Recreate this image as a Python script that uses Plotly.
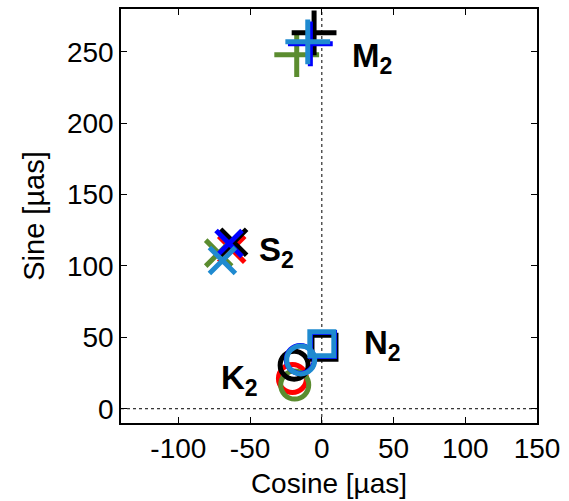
import plotly.graph_objects as go

# Tidal constituents and their plotting symbols
tides = ["M2", "S2", "K2", "N2"]
tide_symbols = ["cross-thin", "x-thin", "circle-open", "square-open"]
tide_sizes = [32, 26, 28, 24]

# Cosine / sine amplitudes (µas) of each solution, one entry per constituent
black_cos = [-5.4, -61.5, -19.3, 1.5]
black_sin = [263.3, 116.6, 30.5, 43.0]
red_cos = [None, -62.8, -20.5, None]
red_sin = [None, 111.7, 21.2, None]
green_cos = [-17.5, -71.9, -18.9, None]
green_sin = [248.0, 109.0, 16.6, None]
blue_cos = [-8.0, -64.7, -15.0, 0.5]
blue_sin = [255.6, 115.8, 34.5, 45.0]
cyan_cos = [-9.8, -69.3, -14.7, 0.0]
cyan_sin = [257.0, 103.8, 34.2, 45.5]

# Label anchor positions for the constituent names
label_text = ["<b>M<sub>2</sub></b>", "<b>S<sub>2</sub></b>",
              "<b>K<sub>2</sub></b>", "<b>N<sub>2</sub></b>"]
label_x = [19.5, -45.5, -72.0, 28.0]
label_y = [245.8, 109.6, 20.3, 44.7]

# Axis ticks
x_ticks = [-100, -50, 0, 50, 100, 150]
y_ticks = [0, 50, 100, 150, 200, 250]

series = [
    ("red", "#ff0000", red_cos, red_sin),
    ("green", "#5b8c2f", green_cos, green_sin),
    ("black", "#000000", black_cos, black_sin),
    ("blue", "#0000ff", blue_cos, blue_sin),
    ("cyan", "#1f8ad0", cyan_cos, cyan_sin),
]

FONT = "Liberation Sans, Arial, sans-serif"

fig = go.Figure()

# Zero reference lines
fig.add_trace(go.Scatter(x=[-140, 150], y=[0, 0], mode="lines",
                         line=dict(color="black", width=1, dash="dot"),
                         hoverinfo="skip", showlegend=False))
fig.add_trace(go.Scatter(x=[0, 0], y=[-10, 280], mode="lines",
                         line=dict(color="black", width=1, dash="dot"),
                         hoverinfo="skip", showlegend=False))

for name, color, xs, ys in series:
    fig.add_trace(go.Scatter(
        x=xs, y=ys, mode="markers", name=name, showlegend=False,
        marker=dict(symbol=tide_symbols, size=tide_sizes, color=color,
                    opacity=1, line=dict(color=color, width=5)),
    ))

for t, lx, ly in zip(label_text, label_x, label_y):
    fig.add_annotation(x=lx, y=ly, text=t, showarrow=False,
                       xanchor="left", yanchor="middle",
                       font=dict(family=FONT, size=33, color="black"))

axis_common = dict(
    showgrid=False, zeroline=False, showline=True, linecolor="black",
    linewidth=1.5, mirror="ticks", ticks="inside", ticklen=6,
    tickcolor="black", tickfont=dict(family=FONT, size=28, color="black"),
)

fig.update_xaxes(range=[-140, 150], tickvals=x_ticks,
                 ticktext=[str(v) for v in x_ticks],
                 title=dict(text="Cosine [µas]", font=dict(family=FONT, size=28, color="black"),
                            standoff=10),
                 **axis_common)
fig.update_yaxes(range=[-10, 280], tickvals=y_ticks,
                 ticktext=[str(v) for v in y_ticks],
                 title=dict(text="Sine [µas]", font=dict(family=FONT, size=29, color="black"),
                            standoff=14),
                 **axis_common)

fig.update_layout(
    width=569, height=501,
    margin=dict(l=121, r=32, t=7, b=78),
    paper_bgcolor="white", plot_bgcolor="white",
    font=dict(family=FONT, color="black"),
)

fig.write_html("out.html")
